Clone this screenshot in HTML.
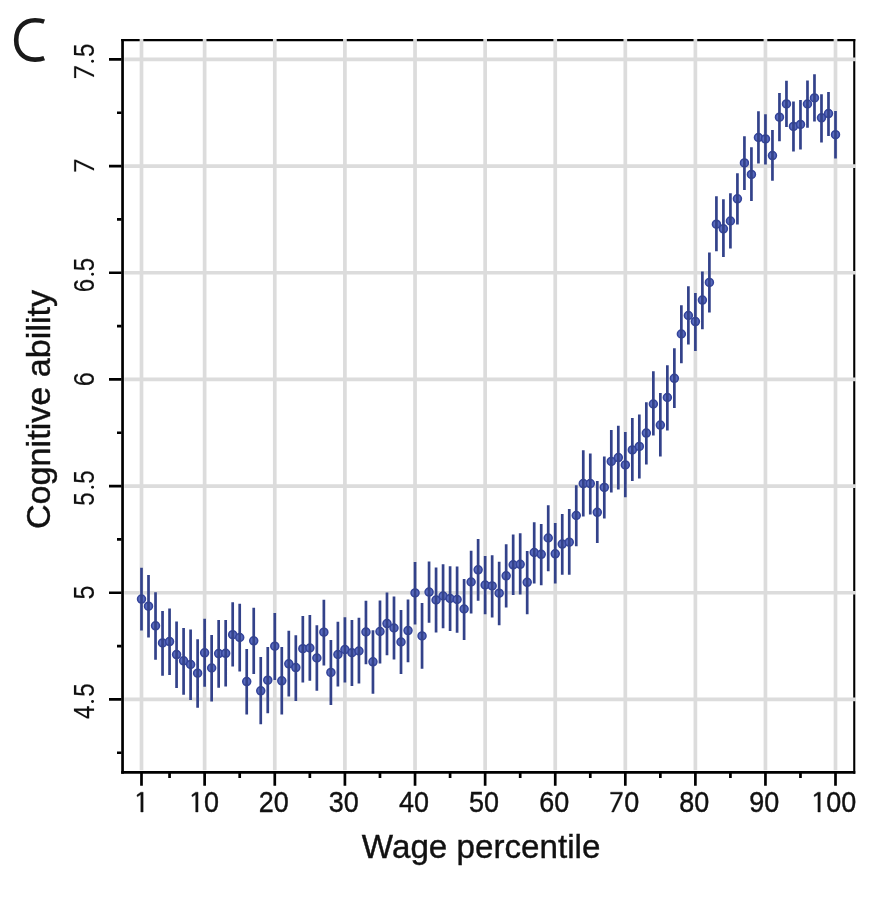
<!DOCTYPE html>
<html><head><meta charset="utf-8"><style>html,body{margin:0;padding:0;background:#fff;width:886px;height:913px;overflow:hidden}svg{display:block;will-change:transform}</style></head>
<body><svg width="886" height="913" viewBox="0 0 886 913"><defs><radialGradient id="dg" cx="0.45" cy="0.45" r="0.6"><stop offset="0" stop-color="#6577c8"/><stop offset="1" stop-color="#4a5bb0"/></radialGradient></defs><path d="M121.2 40.15H855.3" stroke="#000" stroke-width="2.1"/><path d="M854.25 39.1V773.7" stroke="#000" stroke-width="2.1"/><path d="M141.50 39V770.3 M204.63 39V770.3 M274.78 39V770.3 M344.91 39V770.3 M415.04 39V770.3 M485.14 39V770.3 M555.24 39V770.3 M625.32 39V770.3 M695.39 39V770.3 M765.45 39V770.3 M835.50 39V770.3 M124.3 699.40H856 M124.3 592.73H856 M124.3 486.07H856 M124.3 379.40H856 M124.3 272.73H856 M124.3 166.07H856 M124.3 59.40H856" stroke="#dcdcdc" stroke-width="3.7" fill="none"/><circle cx="141.50" cy="599.1" r="4.0" fill="url(#dg)" stroke="#34449a" stroke-width="1.5"/><circle cx="148.51" cy="606.2" r="4.0" fill="url(#dg)" stroke="#34449a" stroke-width="1.5"/><circle cx="155.53" cy="625.8" r="4.0" fill="url(#dg)" stroke="#34449a" stroke-width="1.5"/><circle cx="162.54" cy="642.9" r="4.0" fill="url(#dg)" stroke="#34449a" stroke-width="1.5"/><circle cx="169.56" cy="641.6" r="4.0" fill="url(#dg)" stroke="#34449a" stroke-width="1.5"/><circle cx="176.57" cy="654.6" r="4.0" fill="url(#dg)" stroke="#34449a" stroke-width="1.5"/><circle cx="183.59" cy="660.8" r="4.0" fill="url(#dg)" stroke="#34449a" stroke-width="1.5"/><circle cx="190.60" cy="664.5" r="4.0" fill="url(#dg)" stroke="#34449a" stroke-width="1.5"/><circle cx="197.62" cy="673.2" r="4.0" fill="url(#dg)" stroke="#34449a" stroke-width="1.5"/><circle cx="204.63" cy="652.8" r="4.0" fill="url(#dg)" stroke="#34449a" stroke-width="1.5"/><circle cx="211.65" cy="668.0" r="4.0" fill="url(#dg)" stroke="#34449a" stroke-width="1.5"/><circle cx="218.66" cy="653.6" r="4.0" fill="url(#dg)" stroke="#34449a" stroke-width="1.5"/><circle cx="225.68" cy="653.3" r="4.0" fill="url(#dg)" stroke="#34449a" stroke-width="1.5"/><circle cx="232.69" cy="634.7" r="4.0" fill="url(#dg)" stroke="#34449a" stroke-width="1.5"/><circle cx="239.71" cy="637.5" r="4.0" fill="url(#dg)" stroke="#34449a" stroke-width="1.5"/><circle cx="246.72" cy="681.6" r="4.0" fill="url(#dg)" stroke="#34449a" stroke-width="1.5"/><circle cx="253.73" cy="640.8" r="4.0" fill="url(#dg)" stroke="#34449a" stroke-width="1.5"/><circle cx="260.75" cy="690.8" r="4.0" fill="url(#dg)" stroke="#34449a" stroke-width="1.5"/><circle cx="267.76" cy="680.2" r="4.0" fill="url(#dg)" stroke="#34449a" stroke-width="1.5"/><circle cx="274.78" cy="646.2" r="4.0" fill="url(#dg)" stroke="#34449a" stroke-width="1.5"/><circle cx="281.79" cy="680.8" r="4.0" fill="url(#dg)" stroke="#34449a" stroke-width="1.5"/><circle cx="288.80" cy="663.8" r="4.0" fill="url(#dg)" stroke="#34449a" stroke-width="1.5"/><circle cx="295.82" cy="667.6" r="4.0" fill="url(#dg)" stroke="#34449a" stroke-width="1.5"/><circle cx="302.83" cy="648.7" r="4.0" fill="url(#dg)" stroke="#34449a" stroke-width="1.5"/><circle cx="309.85" cy="648.0" r="4.0" fill="url(#dg)" stroke="#34449a" stroke-width="1.5"/><circle cx="316.86" cy="658.0" r="4.0" fill="url(#dg)" stroke="#34449a" stroke-width="1.5"/><circle cx="323.87" cy="632.2" r="4.0" fill="url(#dg)" stroke="#34449a" stroke-width="1.5"/><circle cx="330.89" cy="672.4" r="4.0" fill="url(#dg)" stroke="#34449a" stroke-width="1.5"/><circle cx="337.90" cy="654.5" r="4.0" fill="url(#dg)" stroke="#34449a" stroke-width="1.5"/><circle cx="344.91" cy="649.6" r="4.0" fill="url(#dg)" stroke="#34449a" stroke-width="1.5"/><circle cx="351.93" cy="652.7" r="4.0" fill="url(#dg)" stroke="#34449a" stroke-width="1.5"/><circle cx="358.94" cy="651.0" r="4.0" fill="url(#dg)" stroke="#34449a" stroke-width="1.5"/><circle cx="365.95" cy="632.0" r="4.0" fill="url(#dg)" stroke="#34449a" stroke-width="1.5"/><circle cx="372.96" cy="661.8" r="4.0" fill="url(#dg)" stroke="#34449a" stroke-width="1.5"/><circle cx="379.98" cy="631.5" r="4.0" fill="url(#dg)" stroke="#34449a" stroke-width="1.5"/><circle cx="386.99" cy="623.6" r="4.0" fill="url(#dg)" stroke="#34449a" stroke-width="1.5"/><circle cx="394.00" cy="628.0" r="4.0" fill="url(#dg)" stroke="#34449a" stroke-width="1.5"/><circle cx="401.01" cy="642.0" r="4.0" fill="url(#dg)" stroke="#34449a" stroke-width="1.5"/><circle cx="408.02" cy="630.6" r="4.0" fill="url(#dg)" stroke="#34449a" stroke-width="1.5"/><circle cx="415.04" cy="592.9" r="4.0" fill="url(#dg)" stroke="#34449a" stroke-width="1.5"/><circle cx="422.05" cy="635.9" r="4.0" fill="url(#dg)" stroke="#34449a" stroke-width="1.5"/><circle cx="429.06" cy="592.1" r="4.0" fill="url(#dg)" stroke="#34449a" stroke-width="1.5"/><circle cx="436.07" cy="600.0" r="4.0" fill="url(#dg)" stroke="#34449a" stroke-width="1.5"/><circle cx="443.08" cy="596.0" r="4.0" fill="url(#dg)" stroke="#34449a" stroke-width="1.5"/><circle cx="450.09" cy="598.5" r="4.0" fill="url(#dg)" stroke="#34449a" stroke-width="1.5"/><circle cx="457.10" cy="599.5" r="4.0" fill="url(#dg)" stroke="#34449a" stroke-width="1.5"/><circle cx="464.11" cy="609.0" r="4.0" fill="url(#dg)" stroke="#34449a" stroke-width="1.5"/><circle cx="471.12" cy="582.0" r="4.0" fill="url(#dg)" stroke="#34449a" stroke-width="1.5"/><circle cx="478.13" cy="569.8" r="4.0" fill="url(#dg)" stroke="#34449a" stroke-width="1.5"/><circle cx="485.14" cy="585.0" r="4.0" fill="url(#dg)" stroke="#34449a" stroke-width="1.5"/><circle cx="492.16" cy="585.9" r="4.0" fill="url(#dg)" stroke="#34449a" stroke-width="1.5"/><circle cx="499.17" cy="593.2" r="4.0" fill="url(#dg)" stroke="#34449a" stroke-width="1.5"/><circle cx="506.17" cy="575.8" r="4.0" fill="url(#dg)" stroke="#34449a" stroke-width="1.5"/><circle cx="513.18" cy="564.8" r="4.0" fill="url(#dg)" stroke="#34449a" stroke-width="1.5"/><circle cx="520.19" cy="564.3" r="4.0" fill="url(#dg)" stroke="#34449a" stroke-width="1.5"/><circle cx="527.20" cy="582.3" r="4.0" fill="url(#dg)" stroke="#34449a" stroke-width="1.5"/><circle cx="534.21" cy="552.5" r="4.0" fill="url(#dg)" stroke="#34449a" stroke-width="1.5"/><circle cx="541.22" cy="554.3" r="4.0" fill="url(#dg)" stroke="#34449a" stroke-width="1.5"/><circle cx="548.23" cy="538.0" r="4.0" fill="url(#dg)" stroke="#34449a" stroke-width="1.5"/><circle cx="555.24" cy="553.8" r="4.0" fill="url(#dg)" stroke="#34449a" stroke-width="1.5"/><circle cx="562.25" cy="544.1" r="4.0" fill="url(#dg)" stroke="#34449a" stroke-width="1.5"/><circle cx="569.26" cy="542.2" r="4.0" fill="url(#dg)" stroke="#34449a" stroke-width="1.5"/><circle cx="576.26" cy="515.5" r="4.0" fill="url(#dg)" stroke="#34449a" stroke-width="1.5"/><circle cx="583.27" cy="483.6" r="4.0" fill="url(#dg)" stroke="#34449a" stroke-width="1.5"/><circle cx="590.28" cy="483.6" r="4.0" fill="url(#dg)" stroke="#34449a" stroke-width="1.5"/><circle cx="597.29" cy="512.3" r="4.0" fill="url(#dg)" stroke="#34449a" stroke-width="1.5"/><circle cx="604.30" cy="487.4" r="4.0" fill="url(#dg)" stroke="#34449a" stroke-width="1.5"/><circle cx="611.30" cy="461.4" r="4.0" fill="url(#dg)" stroke="#34449a" stroke-width="1.5"/><circle cx="618.31" cy="457.6" r="4.0" fill="url(#dg)" stroke="#34449a" stroke-width="1.5"/><circle cx="625.32" cy="464.9" r="4.0" fill="url(#dg)" stroke="#34449a" stroke-width="1.5"/><circle cx="632.33" cy="449.9" r="4.0" fill="url(#dg)" stroke="#34449a" stroke-width="1.5"/><circle cx="639.33" cy="446.4" r="4.0" fill="url(#dg)" stroke="#34449a" stroke-width="1.5"/><circle cx="646.34" cy="433.1" r="4.0" fill="url(#dg)" stroke="#34449a" stroke-width="1.5"/><circle cx="653.35" cy="404.0" r="4.0" fill="url(#dg)" stroke="#34449a" stroke-width="1.5"/><circle cx="660.35" cy="425.1" r="4.0" fill="url(#dg)" stroke="#34449a" stroke-width="1.5"/><circle cx="667.36" cy="397.5" r="4.0" fill="url(#dg)" stroke="#34449a" stroke-width="1.5"/><circle cx="674.37" cy="378.3" r="4.0" fill="url(#dg)" stroke="#34449a" stroke-width="1.5"/><circle cx="681.37" cy="334.0" r="4.0" fill="url(#dg)" stroke="#34449a" stroke-width="1.5"/><circle cx="688.38" cy="315.5" r="4.0" fill="url(#dg)" stroke="#34449a" stroke-width="1.5"/><circle cx="695.39" cy="321.6" r="4.0" fill="url(#dg)" stroke="#34449a" stroke-width="1.5"/><circle cx="702.39" cy="300.1" r="4.0" fill="url(#dg)" stroke="#34449a" stroke-width="1.5"/><circle cx="709.40" cy="282.4" r="4.0" fill="url(#dg)" stroke="#34449a" stroke-width="1.5"/><circle cx="716.41" cy="224.2" r="4.0" fill="url(#dg)" stroke="#34449a" stroke-width="1.5"/><circle cx="723.41" cy="228.8" r="4.0" fill="url(#dg)" stroke="#34449a" stroke-width="1.5"/><circle cx="730.42" cy="221.0" r="4.0" fill="url(#dg)" stroke="#34449a" stroke-width="1.5"/><circle cx="737.42" cy="198.8" r="4.0" fill="url(#dg)" stroke="#34449a" stroke-width="1.5"/><circle cx="744.43" cy="162.9" r="4.0" fill="url(#dg)" stroke="#34449a" stroke-width="1.5"/><circle cx="751.43" cy="174.4" r="4.0" fill="url(#dg)" stroke="#34449a" stroke-width="1.5"/><circle cx="758.44" cy="137.5" r="4.0" fill="url(#dg)" stroke="#34449a" stroke-width="1.5"/><circle cx="765.45" cy="138.9" r="4.0" fill="url(#dg)" stroke="#34449a" stroke-width="1.5"/><circle cx="772.45" cy="155.6" r="4.0" fill="url(#dg)" stroke="#34449a" stroke-width="1.5"/><circle cx="779.46" cy="117.2" r="4.0" fill="url(#dg)" stroke="#34449a" stroke-width="1.5"/><circle cx="786.46" cy="103.9" r="4.0" fill="url(#dg)" stroke="#34449a" stroke-width="1.5"/><circle cx="793.47" cy="126.4" r="4.0" fill="url(#dg)" stroke="#34449a" stroke-width="1.5"/><circle cx="800.47" cy="124.4" r="4.0" fill="url(#dg)" stroke="#34449a" stroke-width="1.5"/><circle cx="807.48" cy="104.0" r="4.0" fill="url(#dg)" stroke="#34449a" stroke-width="1.5"/><circle cx="814.48" cy="97.9" r="4.0" fill="url(#dg)" stroke="#34449a" stroke-width="1.5"/><circle cx="821.49" cy="117.8" r="4.0" fill="url(#dg)" stroke="#34449a" stroke-width="1.5"/><circle cx="828.49" cy="113.6" r="4.0" fill="url(#dg)" stroke="#34449a" stroke-width="1.5"/><circle cx="835.50" cy="134.7" r="4.0" fill="url(#dg)" stroke="#34449a" stroke-width="1.5"/><path d="M141.50 567.7V630.4 M148.51 574.9V637.5 M155.53 592.2V659.7 M162.54 610.9V675.7 M169.56 608.6V675.1 M176.57 621.5V688.1 M183.59 628.0V694.7 M190.60 629.5V699.9 M197.62 639.2V707.7 M204.63 618.7V686.7 M211.65 634.9V701.5 M218.66 620.0V687.8 M225.68 620.0V686.4 M232.69 602.3V666.4 M239.71 603.7V671.5 M246.72 648.9V714.6 M253.73 607.7V674.1 M260.75 657.1V724.2 M267.76 647.0V713.2 M274.78 612.9V679.9 M281.79 647.0V714.6 M288.80 630.8V696.5 M295.82 635.2V700.9 M302.83 615.9V682.5 M309.85 615.0V680.8 M316.86 625.2V690.8 M323.87 599.8V665.5 M330.89 639.9V705.0 M337.90 621.7V686.6 M344.91 617.3V682.5 M351.93 620.0V686.0 M358.94 617.7V683.4 M365.95 600.8V664.3 M372.96 630.3V693.7 M379.98 600.5V663.6 M386.99 592.4V655.2 M394.00 596.4V659.5 M401.01 610.1V674.1 M408.02 599.6V662.2 M415.04 561.9V624.5 M422.05 603.1V668.8 M429.06 561.4V622.7 M436.07 567.5V632.6 M443.08 564.3V628.3 M450.09 566.2V631.1 M457.10 566.6V632.8 M464.11 578.9V639.9 M471.12 550.8V613.6 M478.13 538.9V600.8 M485.14 556.1V614.3 M492.16 555.2V617.4 M499.17 561.7V625.3 M506.17 544.2V607.5 M513.18 534.5V595.0 M520.19 533.3V594.6 M527.20 551.1V614.2 M534.21 522.2V583.6 M541.22 524.0V585.3 M548.23 505.2V571.3 M555.24 523.1V583.6 M562.25 514.0V574.8 M569.26 508.9V574.8 M576.26 485.2V546.2 M583.27 450.3V516.5 M590.28 453.4V514.4 M597.29 481.1V543.0 M604.30 456.6V518.6 M611.30 430.1V492.4 M618.31 425.8V489.5 M625.32 432.0V497.2 M632.33 418.1V481.1 M639.33 414.4V478.4 M646.34 402.2V464.5 M653.35 371.2V435.5 M660.35 392.9V456.6 M667.36 365.3V430.4 M674.37 348.2V407.9 M681.37 305.2V363.3 M688.38 286.3V344.6 M695.39 293.1V351.1 M702.39 271.5V329.3 M709.40 252.4V312.4 M716.41 196.2V251.2 M723.41 199.2V257.1 M730.42 193.3V248.5 M737.42 173.2V224.4 M744.43 136.3V190.1 M751.43 147.3V201.0 M758.44 111.3V163.5 M765.45 114.2V164.5 M772.45 130.0V180.7 M779.46 93.1V141.2 M786.46 80.8V127.1 M793.47 101.4V151.4 M800.47 100.1V149.4 M807.48 80.4V127.7 M814.48 74.2V121.5 M821.49 94.2V142.5 M828.49 91.9V136.0 M835.50 111.0V158.6" stroke="#33428a" stroke-width="2.7" fill="none"/><path d="M122.55 39.1V773.7" stroke="#000" stroke-width="2.7"/><path d="M121.2 772.35H855.3" stroke="#000" stroke-width="2.7"/><path d="M109 699.40H121.5 M109 592.73H121.5 M109 486.07H121.5 M109 379.40H121.5 M109 272.73H121.5 M109 166.07H121.5 M109 59.40H121.5 M117 752.73H121.5 M117 646.07H121.5 M117 539.40H121.5 M117 432.73H121.5 M117 326.07H121.5 M117 219.40H121.5 M117 112.73H121.5 M141.50 773V785.7 M204.63 773V785.7 M274.78 773V785.7 M344.91 773V785.7 M415.04 773V785.7 M485.14 773V785.7 M555.24 773V785.7 M625.32 773V785.7 M695.39 773V785.7 M765.45 773V785.7 M835.50 773V785.7 M169.56 773V778 M239.71 773V778 M309.85 773V778 M379.98 773V778 M450.09 773V778 M520.19 773V778 M590.28 773V778 M660.35 773V778 M730.42 773V778 M800.47 773V778" stroke="#000" stroke-width="2.7" fill="none"/><g transform="translate(0 812)" fill="#111"><path transform="translate(136.90 0)" d="M0 -17.0L3.9 -19.8L6.25 -19.8L6.25 0L3.9 0L3.9 -17.4L0.45 -15.2Z" stroke="#111" stroke-width="0.4"/></g><g transform="translate(0 812)" fill="#111"><path transform="translate(191.80 0)" d="M0 -17.0L3.9 -19.8L6.25 -19.8L6.25 0L3.9 0L3.9 -17.4L0.45 -15.2Z" stroke="#111" stroke-width="0.4"/><text transform="translate(204.05 0) scale(0.93 1)" font-family="Liberation Sans, sans-serif" stroke="#111" stroke-width="0.4" font-size="29">0</text></g><g transform="translate(0 812)" fill="#111"><path transform="translate(814.00 0)" d="M0 -17.0L3.9 -19.8L6.25 -19.8L6.25 0L3.9 0L3.9 -17.4L0.45 -15.2Z" stroke="#111" stroke-width="0.4"/><text transform="translate(826.15 0) scale(0.93 1)" font-family="Liberation Sans, sans-serif" stroke="#111" stroke-width="0.4" font-size="29">0</text><text transform="translate(841.35 0) scale(0.93 1)" font-family="Liberation Sans, sans-serif" stroke="#111" stroke-width="0.4" font-size="29">0</text></g><g transform="translate(0 812)" fill="#111"><path transform="translate(610.60 0)" d="M0 -19.8L11.8 -19.8L11.8 -18.1L3.2 0L1.0 0L9.4 -17.9L0 -17.9Z" stroke="#111" stroke-width="0.4"/><text transform="translate(624.25 0) scale(0.93 1)" font-family="Liberation Sans, sans-serif" stroke="#111" stroke-width="0.4" font-size="29">0</text></g><text transform="translate(273.68 812) scale(0.93 1)" font-family="Liberation Sans, sans-serif" stroke="#111" stroke-width="0.4" font-size="29" text-anchor="middle" fill="#111">20</text><text transform="translate(343.81 812) scale(0.93 1)" font-family="Liberation Sans, sans-serif" stroke="#111" stroke-width="0.4" font-size="29" text-anchor="middle" fill="#111">30</text><text transform="translate(413.94 812) scale(0.93 1)" font-family="Liberation Sans, sans-serif" stroke="#111" stroke-width="0.4" font-size="29" text-anchor="middle" fill="#111">40</text><text transform="translate(484.04 812) scale(0.93 1)" font-family="Liberation Sans, sans-serif" stroke="#111" stroke-width="0.4" font-size="29" text-anchor="middle" fill="#111">50</text><text transform="translate(554.14 812) scale(0.93 1)" font-family="Liberation Sans, sans-serif" stroke="#111" stroke-width="0.4" font-size="29" text-anchor="middle" fill="#111">60</text><text transform="translate(694.29 812) scale(0.93 1)" font-family="Liberation Sans, sans-serif" stroke="#111" stroke-width="0.4" font-size="29" text-anchor="middle" fill="#111">80</text><text transform="translate(764.35 812) scale(0.93 1)" font-family="Liberation Sans, sans-serif" stroke="#111" stroke-width="0.4" font-size="29" text-anchor="middle" fill="#111">90</text><text transform="translate(94 592.43) rotate(-90) scale(0.875 1)" x="0" y="0" font-family="Liberation Sans, sans-serif" stroke="#111" stroke-width="0.15" font-size="29" text-anchor="middle" fill="#111">5</text><text transform="translate(94 379.10) rotate(-90) scale(0.875 1)" x="0" y="0" font-family="Liberation Sans, sans-serif" stroke="#111" stroke-width="0.15" font-size="29" text-anchor="middle" fill="#111">6</text><g transform="translate(94 171.5) rotate(-90)" fill="#111"><path transform="translate(0.00 0)" d="M0 -19.8L11.8 -19.8L11.8 -18.1L3.2 0L1.0 0L9.4 -17.9L0 -17.9Z" stroke="#111" stroke-width="0.15"/></g><g transform="translate(94 78) rotate(-90)" fill="#111"><path transform="translate(0.00 0)" d="M0 -19.8L11.8 -19.8L11.8 -18.1L3.2 0L1.0 0L9.4 -17.9L0 -17.9Z" stroke="#111" stroke-width="0.15"/><circle cx="16.70" cy="-1.45" r="1.45"/><text transform="translate(20.94 0) scale(0.83 1)" font-family="Liberation Sans, sans-serif" stroke="#111" stroke-width="0.15" font-size="29">5</text></g><g transform="translate(94 291) rotate(-90)" fill="#111"><text transform="translate(-1.22 0) scale(0.83 1)" font-family="Liberation Sans, sans-serif" stroke="#111" stroke-width="0.15" font-size="29">6</text><circle cx="16.70" cy="-1.45" r="1.45"/><text transform="translate(19.74 0) scale(0.83 1)" font-family="Liberation Sans, sans-serif" stroke="#111" stroke-width="0.15" font-size="29">5</text></g><g transform="translate(94 504.9) rotate(-90)" fill="#111"><text transform="translate(-0.96 0) scale(0.83 1)" font-family="Liberation Sans, sans-serif" stroke="#111" stroke-width="0.15" font-size="29">5</text><circle cx="17.70" cy="-1.45" r="1.45"/><text transform="translate(21.24 0) scale(0.83 1)" font-family="Liberation Sans, sans-serif" stroke="#111" stroke-width="0.15" font-size="29">5</text></g><g transform="translate(94 718.5) rotate(-90)" fill="#111"><text transform="translate(-0.55 0) scale(0.83 1)" font-family="Liberation Sans, sans-serif" stroke="#111" stroke-width="0.15" font-size="29">4</text><circle cx="17.00" cy="-1.45" r="1.45"/><text transform="translate(21.64 0) scale(0.83 1)" font-family="Liberation Sans, sans-serif" stroke="#111" stroke-width="0.15" font-size="29">5</text></g><text transform="translate(50 409.5) rotate(-90) scale(1.02 1)" font-family="Liberation Sans, sans-serif" stroke="#111" stroke-width="0.4" font-size="33.5" text-anchor="middle" fill="#111">Cognitive ability</text><text transform="translate(481.1 857.8) scale(0.991 1)" font-family="Liberation Sans, sans-serif" stroke="#111" stroke-width="0.4" font-size="33.5" text-anchor="middle" fill="#111">Wage percentile</text><path d="M44.2 21.6C41 20.4 38 20.2 35 20.2C23.5 20.2 16.2 28.5 16.2 40C16.2 51.5 23.5 59.6 35 59.6C38 59.6 41 59.4 44.2 58.2" stroke="#1a1a1a" stroke-width="4.6" fill="none"/></svg></body></html>
